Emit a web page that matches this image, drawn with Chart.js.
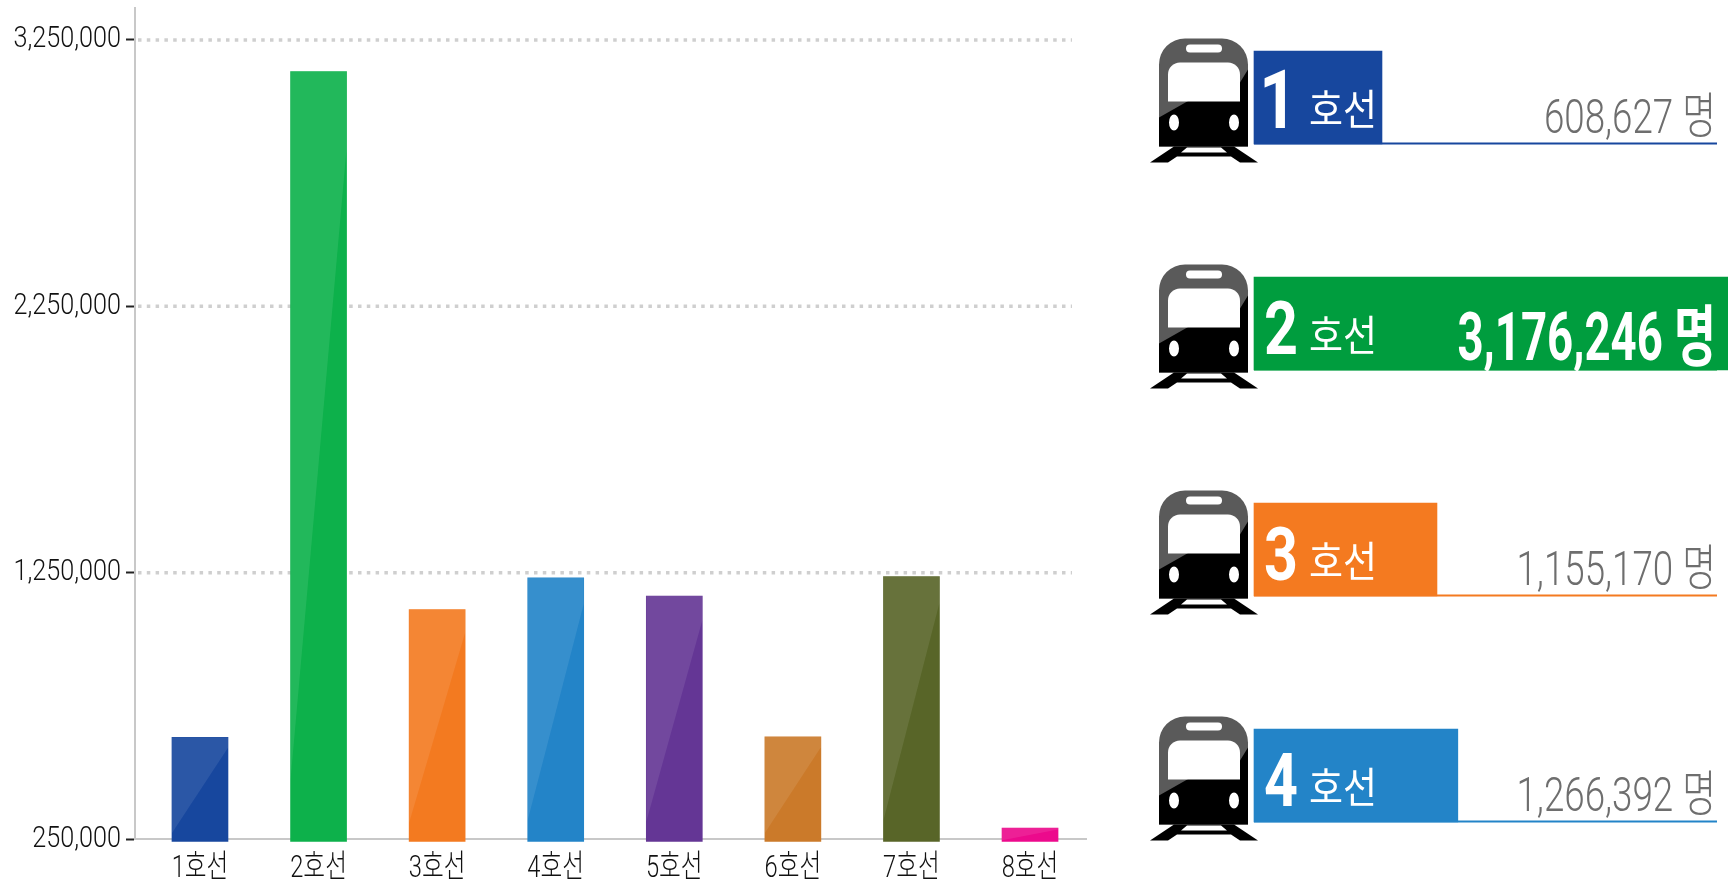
<!DOCTYPE html>
<html lang="ko">
<head>
<meta charset="utf-8">
<title>호선별 이용객</title>
<script src="https://cdn.jsdelivr.net/npm/chart.js@4"></script>
<style>
  html, body { margin: 0; padding: 0; background: #fff; overflow: hidden; }
  canvas { position: absolute; top: 0; }
  #bars { left: 0; }
  #panel { left: 1140px; }
</style>
</head>
<body>
<canvas id="bars" width="1100" height="882"></canvas>
<canvas id="panel" width="588" height="882"></canvas>
<script>
// Left chart data
const lineLabels = ['1호선', '2호선', '3호선', '4호선', '5호선', '6호선', '7호선', '8호선'];
const lineValues = [632000, 3131000, 1111000, 1231000, 1162000, 634000, 1235000, 291000];
const lineColors = ['#17479e', '#0db14b', '#f37a20', '#2384c8', '#643695', '#cb7a2a', '#586528', '#ec0a8c'];
const yTicks = [250000, 1250000, 2250000, 3250000];

// Right panel data
const panelDigits = ['1', '2', '3', '4'];
const panelPeople = ['608,627 명', '3,176,246 명', '1,155,170 명', '1,266,392 명'];
const panelShares = [0.27, 1, 0.386, 0.43];  // block length, share of the panel width
const panelColors = ['#17479e', '#009d3e', '#f47a20', '#2384c8'];

const LATIN = 'Roboto, "Noto Sans CJK KR", sans-serif';
const KOREAN = '"Noto Sans CJK KR", sans-serif';

// The original uses a condensed face, none is installed: squeeze the text instead
function squeezed(ctx, text, x, y, sx) {
  ctx.save();
  ctx.translate(x, y);
  ctx.scale(sx, 1);
  ctx.fillText(text, 0, 0);
  ctx.restore();
}

const condensedTicks = {
  id: 'condensedTicks',
  beforeInit(chart) {
    const ctx = chart.ctx;
    const fillText = ctx.fillText.bind(ctx);
    ctx.fillText = (text, x, y) => {
      const sx = text.includes('호') ? 0.74 : 0.84;
      ctx.save();
      ctx.translate(x, y);
      ctx.scale(sx, 1);
      fillText(text, 0, 0);
      ctx.restore();
    };
  }
};

// Dotted grid lines stop short of the axis ends
const dottedGrid = {
  id: 'dottedGrid',
  beforeDatasetsDraw(chart) {
    const { ctx, scales } = chart;
    ctx.save();
    ctx.strokeStyle = '#cfcfcf';
    ctx.lineWidth = 3.5;
    ctx.setLineDash([3.5, 5.3]);
    yTicks.slice(1).forEach(t => {
      const y = scales.y.getPixelForValue(t);
      ctx.beginPath();
      ctx.moveTo(scales.x.left + 3, y);
      ctx.lineTo(1072, y);
      ctx.stroke();
    });
    ctx.restore();
  }
};

// Lighter diagonal sheen on each bar
const barSheen = {
  id: 'barSheen',
  afterDatasetsDraw(chart) {
    const { ctx } = chart;
    ctx.save();
    ctx.fillStyle = 'rgba(255, 255, 255, 0.09)';
    chart.getDatasetMeta(0).data.forEach(bar => {
      const h = bar.base - bar.y;
      const l = bar.x - bar.width / 2;
      const r = bar.x + bar.width / 2;
      ctx.beginPath();
      ctx.moveTo(l, bar.y);
      ctx.lineTo(r, bar.y);
      ctx.lineTo(r, bar.y + h * 0.1);
      ctx.lineTo(l, bar.y + h * 0.92);
      ctx.closePath();
      ctx.fill();
    });
    ctx.restore();
  }
};

new Chart(document.getElementById('bars'), {
  type: 'bar',
  data: {
    datasets: [{
      data: lineValues.map((v, i) => ({ x: i, y: v })),
      backgroundColor: lineColors,
      base: 241000,
      barThickness: 56,
      clip: false
    }]
  },
  plugins: [condensedTicks, dottedGrid, barSheen],
  options: {
    responsive: false,
    animation: false,
    layout: { autoPadding: false, padding: { top: 8, right: 14, left: 0, bottom: 0 } },
    plugins: { legend: { display: false }, tooltip: { enabled: false } },
    scales: {
      x: {
        type: 'linear',
        offset: false,
        min: -0.548,
        max: 7.472,
        afterBuildTicks: scale => { scale.ticks = lineLabels.map((_, i) => ({ value: i })); },
        afterFit: scale => { scale.height = 43; },
        border: { color: '#c8c8c8', width: 2 },
        grid: { display: false },
        ticks: {
          autoSkip: false,
          maxRotation: 0,
          padding: 3,
          color: '#111',
          font: { family: LATIN, size: 32, weight: 300 },
          callback: v => lineLabels[v]
        }
      },
      y: {
        min: 250000,
        max: 3370000,
        afterBuildTicks: scale => { scale.ticks = yTicks.map(v => ({ value: v })); },
        afterFit: scale => {
          scale.width = 135;
          // axis line runs above the top tick, no room needed for its label
          scale.paddingTop = 0;
          scale._margins.top = 0;
        },
        border: { color: '#c8c8c8', width: 2 },
        grid: { drawOnChartArea: false, tickLength: 9, tickColor: '#222', tickWidth: 2 },
        ticks: {
          padding: 5,
          color: '#111',
          font: { family: LATIN, size: 30, weight: 300 },
          callback: v => v.toLocaleString('en-US')
        }
      }
    }
  }
});

// Train pictogram, measured from the row centre
function drawTrain(ctx, cx, cy) {
  ctx.save();
  ctx.translate(cx, cy);
  // body
  ctx.fillStyle = '#5a5a5a';
  ctx.beginPath();
  ctx.roundRect(-45, -59, 89, 108, [26, 26, 0, 0]);
  ctx.fill();
  // black lower half
  ctx.fillStyle = '#000';
  ctx.beginPath();
  ctx.moveTo(-45, 49);
  ctx.lineTo(-45, 20);
  ctx.lineTo(-15, 3);
  ctx.lineTo(36, 3);
  ctx.lineTo(36, -15);
  ctx.lineTo(44, -28);
  ctx.lineTo(44, 49);
  ctx.closePath();
  ctx.fill();
  // windows and lights
  ctx.fillStyle = '#fff';
  ctx.beginPath();
  ctx.roundRect(-36, -35, 72, 39, [12, 12, 0, 0]);
  ctx.fill();
  ctx.beginPath();
  ctx.roundRect(-18, -53, 36, 8, 4);
  ctx.fill();
  ctx.beginPath();
  ctx.ellipse(-30, 25, 5, 8, 0, 0, Math.PI * 2);
  ctx.ellipse(30, 25, 5, 8, 0, 0, Math.PI * 2);
  ctx.fill();
  // rails
  ctx.fillStyle = '#000';
  ctx.beginPath();
  ctx.moveTo(-30, 49);
  ctx.lineTo(30, 49);
  ctx.lineTo(54, 65);
  ctx.lineTo(36, 65);
  ctx.lineTo(27, 59);
  ctx.lineTo(-27, 59);
  ctx.lineTo(-36, 65);
  ctx.lineTo(-54, 65);
  ctx.closePath();
  ctx.fill();
  ctx.fillStyle = '#fff';
  ctx.beginPath();
  ctx.moveTo(-17, 50);
  ctx.lineTo(17, 50);
  ctx.lineTo(23, 55);
  ctx.lineTo(-23, 55);
  ctx.closePath();
  ctx.fill();
  ctx.restore();
}

// Underlines, trains and row texts
const panelDecor = {
  id: 'panelDecor',
  beforeDatasetsDraw(chart) {
    const { ctx, scales } = chart;
    panelColors.forEach((color, i) => {
      const y = scales.y.getPixelForValue(i);
      ctx.fillStyle = color;
      ctx.fillRect(scales.x.left, y + 45, 463, 2);
    });
  },
  afterDatasetsDraw(chart) {
    const { ctx, scales } = chart;
    const left = scales.x.left;
    panelDigits.forEach((digit, i) => {
      const y = scales.y.getPixelForValue(i);
      drawTrain(ctx, left - 50, y);

      ctx.save();
      ctx.fillStyle = '#fff';
      ctx.textBaseline = 'alphabetic';
      ctx.textAlign = 'center';
      ctx.font = `bold ${i === 0 ? 82 : 74}px ${LATIN}`;
      squeezed(ctx, digit, left + (i === 0 ? 24 : 27), y + 30, 0.8);
      ctx.font = `400 42px ${KOREAN}`;
      squeezed(ctx, '호선', left + 89, y + 27, 0.88);

      // value text
      const big = i === 1;
      ctx.textAlign = 'right';
      ctx.fillStyle = big ? '#fff' : '#6e6e6e';
      ctx.font = `${big ? 'bold 66px' : '300 49px'} ${LATIN}`;
      squeezed(ctx, panelPeople[i], left + 462, y + (big ? 36 : 35), big ? 0.69 : 0.75);
      ctx.restore();
    });
  }
};

new Chart(document.getElementById('panel'), {
  type: 'bar',
  data: {
    labels: panelDigits,
    datasets: [{
      data: panelShares,
      backgroundColor: panelColors,
      barThickness: 93,
      clip: false
    }]
  },
  plugins: [panelDecor],
  options: {
    indexAxis: 'y',
    responsive: false,
    animation: false,
    layout: { autoPadding: false, padding: { left: 114, right: 0, top: 97.5, bottom: 106.5 } },
    plugins: { legend: { display: false }, tooltip: { enabled: false } },
    scales: {
      x: { display: false, min: 0, max: 1 },
      y: { display: false, offset: false }
    }
  }
});
</script>
</body>
</html>
